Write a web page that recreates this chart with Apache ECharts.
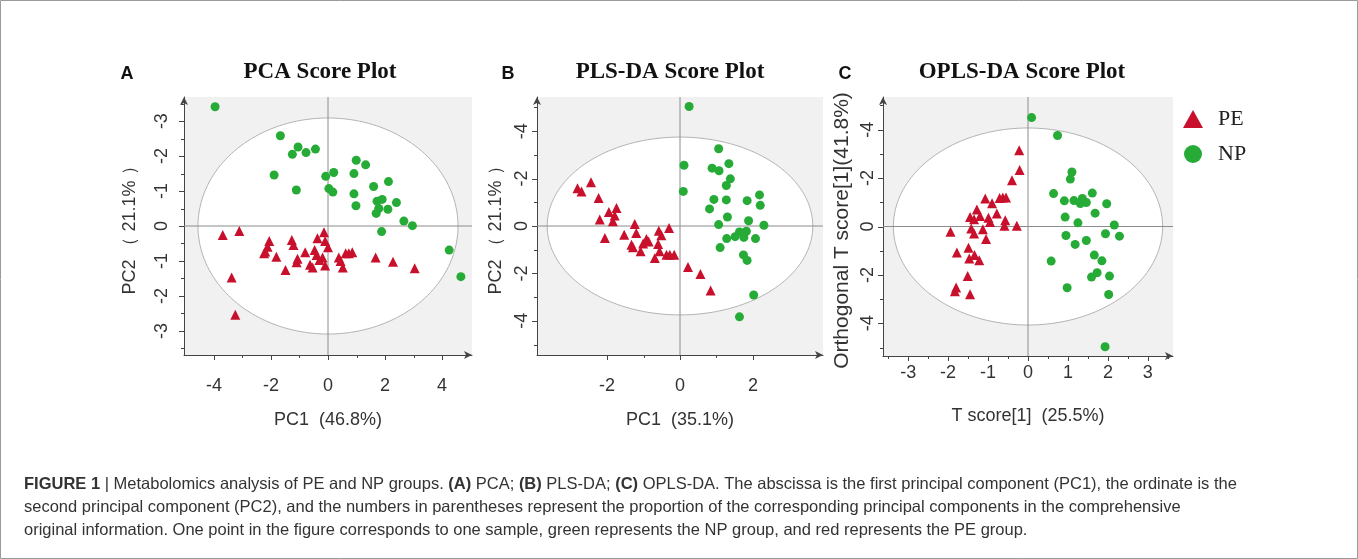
<!DOCTYPE html>
<html>
<head>
<meta charset="utf-8">
<script src="https://cdn.jsdelivr.net/npm/echarts@6/dist/echarts.min.js"></script>
<style>
html,body{margin:0;padding:0;background:#fff;}
#chart{width:1358px;height:559px;}
</style>
</head>
<body>
<div id="chart"></div>
<script>
// ---------------- DATA ----------------
// Panel A: PCA
const peA = [[-3.69,-0.26],[-3.11,-0.14],[-3.38,-1.47],[-3.25,-2.54],[-2.06,-0.43],[-2.12,-0.59],[-2.20,-0.73],[-2.24,-0.78],[-1.81,-0.88],[-1.49,-1.26],[-1.27,-0.40],[-1.21,-0.54],[-0.80,-0.75],[-1.07,-0.94],[-1.10,-1.04],[-0.63,-1.11],[-0.54,-1.19],[-0.47,-0.69],[-0.40,-0.83],[-0.37,-0.35],[-0.30,-0.97],[-0.14,-0.18],[-0.10,-0.43],[0.00,-0.61],[-0.19,-0.90],[-0.10,-1.13],[0.38,-0.90],[0.44,-1.00],[0.52,-1.19],[0.62,-0.78],[0.73,-0.78],[0.85,-0.75],[1.67,-0.90],[2.28,-1.02],[3.04,-1.21]];
const npA = [[-3.96,3.41],[-1.67,2.58],[-1.05,2.26],[-1.25,2.05],[-0.77,2.10],[-0.44,2.20],[-1.89,1.46],[-1.11,1.03],[-0.08,1.42],[0.20,1.53],[0.03,1.07],[0.17,0.97],[0.99,1.88],[1.32,1.75],[0.91,1.50],[0.91,0.92],[0.98,0.58],[1.60,1.13],[2.12,1.27],[1.72,0.71],[1.90,0.76],[1.78,0.50],[1.69,0.36],[2.10,0.48],[2.40,0.67],[2.66,0.14],[2.96,0.01],[1.88,-0.16],[4.25,-0.69],[4.66,-1.45]];
// Panel B: PLS-DA
const peB = [[-2.81,1.59],[-2.70,1.46],[-2.44,1.85],[-2.23,1.18],[-1.95,0.59],[-1.74,0.76],[-1.79,0.44],[-1.84,0.20],[-2.20,0.27],[-2.06,-0.51],[-1.53,-0.37],[-1.24,0.08],[-1.20,-0.29],[-1.33,-0.79],[-1.29,-0.90],[-1.08,-1.07],[-1.01,-0.74],[-0.92,-0.55],[-0.86,-0.65],[-0.69,-1.35],[-0.60,-0.76],[-0.56,-1.07],[-0.58,-0.20],[-0.51,-0.39],[-0.37,-1.21],[-0.28,-1.21],[-0.16,-1.21],[-0.30,-0.08],[0.22,-1.73],[0.56,-2.02],[0.84,-2.72]];
const npB = [[0.25,5.04],[0.11,2.56],[0.09,1.46],[1.06,3.26],[0.88,2.44],[1.07,2.33],[1.34,2.63],[1.38,1.99],[1.27,1.71],[0.93,1.12],[1.27,1.10],[0.81,0.72],[1.84,1.07],[2.18,1.31],[2.20,0.87],[1.30,0.38],[1.88,0.22],[2.30,0.03],[1.06,0.06],[1.28,-0.53],[1.10,-0.91],[1.51,-0.45],[1.63,-0.25],[1.74,-0.31],[1.82,-0.22],[1.75,-0.48],[2.07,-0.53],[1.74,-1.22],[1.84,-1.45],[2.02,-2.91],[1.63,-3.83]];
// Panel C: OPLS-DA
const peC = [[-0.22,3.15],[-0.21,2.33],[-0.40,1.91],[-1.07,1.16],[-0.90,0.96],[-0.71,1.18],[-0.63,1.20],[-0.55,1.20],[-0.78,0.54],[-1.28,0.70],[-1.45,0.39],[-1.35,0.30],[-1.42,-0.08],[-1.20,0.43],[-0.99,0.36],[-0.95,0.19],[-1.13,-0.11],[-1.35,-0.29],[-1.05,-0.52],[-0.57,0.26],[-0.59,0.03],[-0.28,0.03],[-1.94,-0.22],[-1.78,-1.07],[-1.49,-0.88],[-1.47,-1.32],[-1.34,-1.18],[-1.22,-1.39],[-1.51,-2.05],[-1.80,-2.52],[-1.83,-2.67],[-1.45,-2.80]];
const npC = [[0.09,4.50],[0.74,3.76],[1.10,2.25],[1.06,1.96],[0.64,1.36],[0.91,1.06],[1.15,1.07],[1.31,0.95],[1.36,1.16],[1.46,0.99],[1.61,1.38],[1.97,0.94],[1.68,0.55],[0.93,0.39],[1.25,0.15],[2.16,0.06],[2.29,-0.40],[1.94,-0.30],[0.95,-0.37],[1.18,-0.74],[1.46,-0.58],[0.58,-1.43],[1.66,-1.18],[1.85,-1.42],[1.73,-1.91],[1.59,-2.09],[2.04,-2.05],[0.98,-2.53],[2.02,-2.81],[1.93,-4.97]];
// Hotelling ellipses: [centerX, centerY, radiusX, radiusY]
const ellipseA = [0, 0, 4.56, 3.09];
const ellipseB = [0, 0, 3.64, 3.75];
const ellipseC = [0, 0, 3.37, 4.07];
// Axis extents
const xRangeA = [-5.05, 5.05], yRangeA = [-3.69, 3.69];
const xRangeB = [-3.92, 3.92], yRangeB = [-5.44, 5.44];
const xRangeC = [-3.63, 3.63], yRangeC = [-5.35, 5.35];
// Ticks and tick labels
const xTicksA = [-4,-2,0,2,4], xMinorA = [-3,-1,1,3];
const yTicksA = [3,2,1,0,-1,-2,-3], yLabelsA = ['-3','-2','-1','0','-1','-2','-3'];
const yMinorA = [3.5,2.5,1.5,0.5,-0.5,-1.5,-2.5,-3.5];
const xTicksB = [-2,0,2], xMinorB = [-1,1];
const yTicksB = [4,2,0,-2,-4], yLabelsB = ['-4','-2','0','-2','-4'];
const yMinorB = [5,3,1,-1,-3,-5];
const xTicksC = [-3,-2,-1,0,1,2,3], xMinorC = [-3.5,-2.5,-1.5,-0.5,0.5,1.5,2.5,3.5];
const yTicksC = [4,2,0,-2,-4], yLabelsC = ['-4','-2','0','-2','-4'];
const yMinorC = [5,3,1,-1,-3,-5];
// Texts
const panelTitles = ['PCA Score Plot', 'PLS-DA Score Plot', 'OPLS-DA Score Plot'];
const panelLetters = ['A', 'B', 'C'];
const xNames = ['PC1  (46.8%)', 'PC1  (35.1%)', 'T score[1]  (25.5%)'];
const yNames = ['PC2 （ 21.1% ）', 'PC2 （ 21.1% ）', 'Orthogonal T score[1](41.8%)'];
const groupNames = ['PE', 'NP'];

// ---------------- STYLE ----------------
const RED = '#c8102c', GREEN = '#26ab37';
const SANS = '"Liberation Sans", Arial, sans-serif';
const SERIF = '"Liberation Serif", "Times New Roman", serif';
const grids = [
  {left: 184, top: 97, width: 288, height: 258},
  {left: 537, top: 97, width: 286, height: 258},
  {left: 883, top: 97, width: 290, height: 259}
];

const chart = echarts.init(document.getElementById('chart'), null, {renderer: 'canvas'});

function labelLookup(vals, labels) {
  return function (v) {
    for (let i = 0; i < vals.length; i++) if (Math.abs(vals[i] - v) < 1e-9) return labels[i];
    return '';
  };
}

function mainX(gi, range, ticks, nameGap, margin) {
  return {
    gridIndex: gi, type: 'value', min: range[0], max: range[1],
    name: xNames[gi], nameLocation: 'middle', nameGap: nameGap,
    nameTextStyle: {fontFamily: SANS, fontSize: 18, color: '#333'},
    axisLine: {show: true, onZero: false, lineStyle: {color: '#444', width: 1}, symbol: ['none', 'arrow'], symbolSize: [6, 8]},
    axisTick: {show: false},
    axisLabel: {show: true, margin: margin, fontFamily: SANS, fontSize: 18, color: '#333', customValues: ticks,
      formatter: v => String(v)},
    splitLine: {show: false}
  };
}
function mainY(gi, range, ticks, labels, nameGap, margin, nameSize, namePad) {
  return {
    gridIndex: gi, type: 'value', min: range[0], max: range[1],
    name: yNames[gi], nameLocation: 'middle', nameGap: nameGap, nameRotate: 90,
    nameTextStyle: {fontFamily: SANS, fontSize: nameSize, color: '#333', padding: namePad},
    axisLine: {show: true, onZero: false, lineStyle: {color: '#444', width: 1}, symbol: ['none', 'arrow'], symbolSize: [6, 8]},
    axisTick: {show: false},
    axisLabel: {show: true, rotate: 90, margin: margin, fontFamily: SANS, fontSize: 18, color: '#333',
      customValues: ticks, formatter: labelLookup(ticks, labels)},
    splitLine: {show: false}
  };
}

// Ellipse, origin crosshair and axis ticks, all placed through the axes' scales
function makeRenderer(xMaj, xMin, yMaj, yMin) {
  return function (params, api) {
    const c = api.coord([api.value(0), api.value(1)]);
    const s = api.size([api.value(2), api.value(3)]);
    const o = api.coord([0, 0]);
    const cs = params.coordSys;
    const pts = [];
    for (let k = 0; k < 180; k++) {
      const t = k / 180 * Math.PI * 2;
      pts.push([c[0] + s[0] * Math.cos(t), c[1] + s[1] * Math.sin(t)]);
    }
    const children = [
      {type: 'polygon', shape: {points: pts}, style: {fill: '#ffffff', stroke: '#b4b4b4', lineWidth: 1}},
      {type: 'line', shape: {x1: cs.x, y1: o[1], x2: cs.x + cs.width, y2: o[1]}, style: {stroke: '#8c8c8c', lineWidth: 1}},
      {type: 'line', shape: {x1: o[0], y1: cs.y, x2: o[0], y2: cs.y + cs.height}, style: {stroke: '#8c8c8c', lineWidth: 1}}
    ];
    const yb = cs.y + cs.height, xl = cs.x;
    const tick = {stroke: '#444', lineWidth: 1};
    xMaj.forEach(v => { const p = Math.round(api.coord([v, 0])[0]) + 0.5; children.push({type: 'line', shape: {x1: p, y1: yb, x2: p, y2: yb + 5}, style: tick}); });
    xMin.forEach(v => { const p = Math.round(api.coord([v, 0])[0]) + 0.5; children.push({type: 'line', shape: {x1: p, y1: yb, x2: p, y2: yb + 3}, style: tick}); });
    yMaj.forEach(v => { const p = Math.round(api.coord([0, v])[1]) + 0.5; children.push({type: 'line', shape: {x1: xl, y1: p, x2: xl - 5, y2: p}, style: tick}); });
    yMin.forEach(v => { const p = Math.round(api.coord([0, v])[1]) + 0.5; children.push({type: 'line', shape: {x1: xl, y1: p, x2: xl - 3, y2: p}, style: tick}); });
    return {type: 'group', children: children};
  };
}

function panelSeries(gi, pe, np, ell, renderer) {
  return [
    {type: 'custom', xAxisIndex: gi, yAxisIndex: gi, renderItem: renderer,
      data: [ell], z: 1, silent: true, clip: false},
    {type: 'scatter', name: groupNames[0], xAxisIndex: gi, yAxisIndex: gi, data: pe,
      symbol: 'triangle', symbolSize: 10, itemStyle: {color: RED, opacity: 1}, z: 3},
    {type: 'scatter', name: groupNames[1], xAxisIndex: gi, yAxisIndex: gi, data: np,
      symbol: 'circle', symbolSize: 9, itemStyle: {color: GREEN, opacity: 1}, z: 3}
  ];
}

const captionLines = [
  '{b|FIGURE 1} | Metabolomics analysis of PE and NP groups. {b|(A)} PCA; {b|(B)} PLS-DA; {b|(C)} OPLS-DA. The abscissa is the first principal component (PC1), the ordinate is the',
  'second principal component (PC2), and the numbers in parentheses represent the proportion of the corresponding principal components in the comprehensive',
  'original information. One point in the figure corresponds to one sample, green represents the NP group, and red represents the PE group.'
];

const titleX = [320, 670, 1022];
const letterX = [127, 508, 845];
const CAP = 16.5;

const graphics = [
  {type: 'rect', shape: {x: 0.5, y: 0.5, width: 1357, height: 558}, style: {fill: 'none', stroke: '#9a9a9a', lineWidth: 1}, silent: true, z: -10}
];
for (let i = 0; i < 3; i++) {
  graphics.push({type: 'text', x: titleX[i], y: 72, style: {text: panelTitles[i], font: 'bold 23px ' + SERIF, fill: '#111', textAlign: 'center', textVerticalAlign: 'middle'}});
  graphics.push({type: 'text', x: letterX[i], y: 74, style: {text: panelLetters[i], font: 'bold 18px ' + SANS, fill: '#111', textAlign: 'center', textVerticalAlign: 'middle'}});
}
captionLines.forEach((t, i) => {
  graphics.push({type: 'text', x: 24, y: 484 + i * 23, style: {
    text: t, fontFamily: SANS, fontSize: CAP, fill: '#333', textVerticalAlign: 'middle',
    rich: {b: {fontFamily: SANS, fontSize: CAP, fontWeight: 'bold', fill: '#333'}}
  }});
});

const option = {
  backgroundColor: '#ffffff',
  animation: false,
  grid: grids.map(g => Object.assign({show: true, backgroundColor: '#f1f1f1', borderWidth: 0, containLabel: false}, g)),
  xAxis: [
    mainX(0, xRangeA, xTicksA, 56, 22),
    mainX(1, xRangeB, xTicksB, 56, 22),
    mainX(2, xRangeC, xTicksC, 51, 8)
  ],
  yAxis: [
    mainY(0, yRangeA, yTicksA, yLabelsA, 45, 13, 18, 0),
    mainY(1, yRangeB, yTicksB, yLabelsB, 32, 6, 18, 0),
    mainY(2, yRangeC, yTicksC, yLabelsC, 30, 6, 21, [0, 8, 0, 0])
  ],
  legend: {
    orient: 'vertical', left: 1178, top: 103, itemWidth: 20, itemHeight: 18, itemGap: 13,
    data: [{name: 'PE', icon: 'triangle'}, {name: 'NP', icon: 'circle'}],
    textStyle: {fontFamily: SERIF, fontSize: 22, color: '#222', padding: [0, 0, 0, 10]}
  },
  graphic: graphics,
  series: [].concat(
    panelSeries(0, peA, npA, ellipseA, makeRenderer(xTicksA, xMinorA, yTicksA, yMinorA)),
    panelSeries(1, peB, npB, ellipseB, makeRenderer(xTicksB, xMinorB, yTicksB, yMinorB)),
    panelSeries(2, peC, npC, ellipseC, makeRenderer(xTicksC, xMinorC, yTicksC, yMinorC))
  )
};
chart.setOption(option);
</script>
</body>
</html>
